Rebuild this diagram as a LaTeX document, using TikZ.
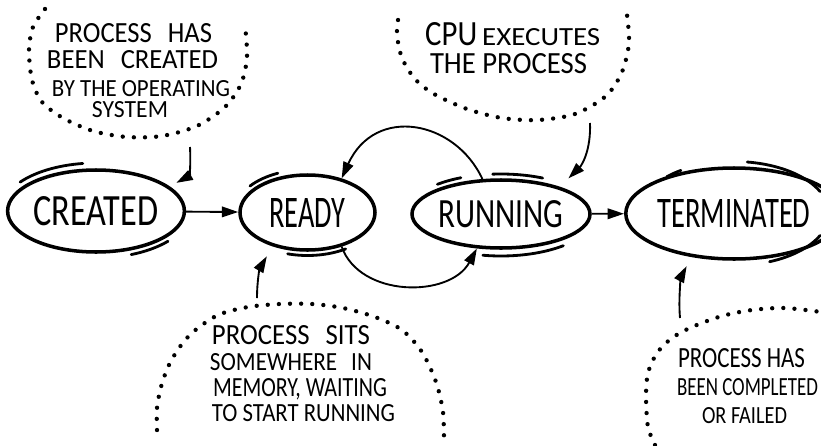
\documentclass[tikz,border=0pt]{standalone}
\usepackage{fontspec}
\usepackage{graphicx}
\usetikzlibrary{shapes.geometric,arrows.meta,calc}
\newfontfamily\hand{Carlito}
\newlength\pxu
\setlength\pxu{0.03cm}
\newcommand\hwtext[3]{\resizebox{#1\pxu}{#2\pxu}{\hand #3}}
\begin{document}
\begin{tikzpicture}[x=0.03cm,y=-0.03cm,
  state/.style={ellipse, draw, line width=3pt, inner sep=0pt},
  sk/.style={line width=2.4pt, line cap=round},
  arr/.style={line width=1.6pt, -{Triangle[length=14pt,width=9pt]}},
  dots/.style={line width=3.7pt, line cap=round, dash pattern=on 0pt off 9.5pt},
  ann/.style={anchor=base, inner sep=0pt}]
\useasboundingbox (0,0) rectangle (821,445);

% states
\node[state, minimum width=176\pxu, minimum height=82\pxu] (created) at (96,211) {\hwtext{125}{29}{CREATED}};
\node[state, minimum width=135\pxu, minimum height=75\pxu] (ready) at (307.5,212.5) {\hwtext{76}{29}{READY}};
\node[state, minimum width=178\pxu, minimum height=68\pxu] (running) at (501,214) {\hwtext{125}{27}{RUNNING}};
\node[state, minimum width=178\pxu, minimum height=91\pxu] (terminated) at (734,213.5) {\hwtext{153}{28}{TERMINATED}};

% sketch strokes
\draw[sk] ([shift={(217:95 and 48)}]96,211) arc[start angle=217, end angle=262, x radius=95, y radius=48];
\draw[sk] ([shift={(40:94 and 47)}]96,211) arc[start angle=40, end angle=68, x radius=94, y radius=47];
\draw[sk] ([shift={(218:73 and 43)}]307.5,212.5) arc[start angle=218, end angle=246, x radius=73, y radius=43];
\draw[sk] ([shift={(58:72 and 43)}]307.5,212.5) arc[start angle=58, end angle=106, x radius=72, y radius=43];
\draw[sk] ([shift={(265:95 and 40)}]501,214) arc[start angle=265, end angle=296, x radius=95, y radius=40];
\draw[sk] ([shift={(228:95 and 40)}]501,214) arc[start angle=228, end angle=245, x radius=95, y radius=40];
\draw[sk] ([shift={(49:95 and 42)}]501,214) arc[start angle=49, end angle=101, x radius=95, y radius=42];
\draw[sk] ([shift={(225:95 and 52)}]734,213.5) arc[start angle=225, end angle=236, x radius=95, y radius=52];
\draw[sk] ([shift={(278:95 and 52)}]734,213.5) arc[start angle=278, end angle=335, x radius=95, y radius=52];
\draw[sk] ([shift={(25:95 and 52)}]734,213.5) arc[start angle=25, end angle=68, x radius=95, y radius=52];

% transitions
\draw[arr] (created) -- (ready);
\draw[arr] (running) -- (terminated);
\draw[arr] (running.118) .. controls (455,120) and (375,105) .. (ready.45);
\draw[arr] (ready.-45) .. controls (360,298) and (450,298) .. (running.-125);

% annotation arrows
\coordinate (a1s) at (190,147);
\coordinate (a2s) at (590,123);
\coordinate (a3s) at (257,298);
\coordinate (a4s) at (680,318);
\draw[arr] (a1s) .. controls (191,168) and (189,176) .. ([shift={(6,-4)}]created.18);
\draw[arr] (a2s) .. controls (591,150) and (582,165) .. ([shift={(4,-10)}]running.22);
\draw[arr] (a3s) .. controls (257,280) and (260,268) .. ([shift={(0,12)}]ready.-142);
\draw[arr] (a4s) .. controls (678,295) and (682,275) .. ([shift={(0,10)}]terminated.-138);

% dotted bubbles
\draw[dots] plot[smooth] coordinates {(45,9) (33,27) (29,50) (32,80) (42,102) (63,118) (93,131) (127,137) (162,136) (197,126) (225,107) (241,84) (247,57) (245,25)};
\draw[dots] plot[smooth] coordinates {(398,20) (397,35) (402,58) (415,79) (434,94) (467,109) (502,118) (538,120) (575,114) (606,96) (622,72) (629,43) (627,15)};
\draw[dots] plot[smooth] coordinates {(157,430) (157,408) (161,387) (168,367) (179,348) (193,332) (218,315) (248,307) (280,304) (312,304) (343,308) (375,317) (402,330) (422,352) (436,382) (443,412) (444,445)};
\draw[dots] plot[smooth] coordinates {(655,445) (648,427) (646,397) (648,373) (657,353) (672,338) (692,327) (722,316) (752,310) (785,308) (821,312)};

% annotation texts
\node[ann] (t1a) at (133.5,42) {\hwtext{157}{19}{PROCESS\hspace{0.6em}HAS}};
\node[ann] (t1b) at (132.5,68) {\hwtext{171}{18}{BEEN\hspace{0.6em}CREATED}};
\node[ann] (t1c) at (141,96) {\hwtext{178}{16}{BY THE OPERATING}};
\node[ann] (t1d) at (130,117) {\hwtext{76}{16}{SYSTEM}};

\node[ann, anchor=base west] (t2a) at (425,45) {\hwtext{52}{23}{CPU}\hspace{5\pxu}\hwtext{118}{17}{EXECUTES}};
\node[ann] (t2b) at (508.5,73) {\hwtext{157}{20}{THE PROCESS}};

\node[ann] (t3a) at (291,344) {\hwtext{158}{19}{PROCESS\hspace{0.6em}SITS}};
\node[ann] (t3b) at (291,370) {\hwtext{162}{17}{SOMEWHERE\hspace{0.6em}IN}};
\node[ann] (t3c) at (300,396) {\hwtext{174}{18}{MEMORY, WAITING}};
\node[ann] (t3d) at (303.5,421) {\hwtext{183}{17}{TO START RUNNING}};

\node[ann] (t4a) at (741.5,367) {\hwtext{127}{19}{PROCESS HAS}};
\node[ann] (t4b) at (747.5,395) {\hwtext{141}{17}{BEEN COMPLETED}};
\node[ann] (t4c) at (744.5,423) {\hwtext{85}{16}{OR FAILED}};
\end{tikzpicture}
\end{document}
